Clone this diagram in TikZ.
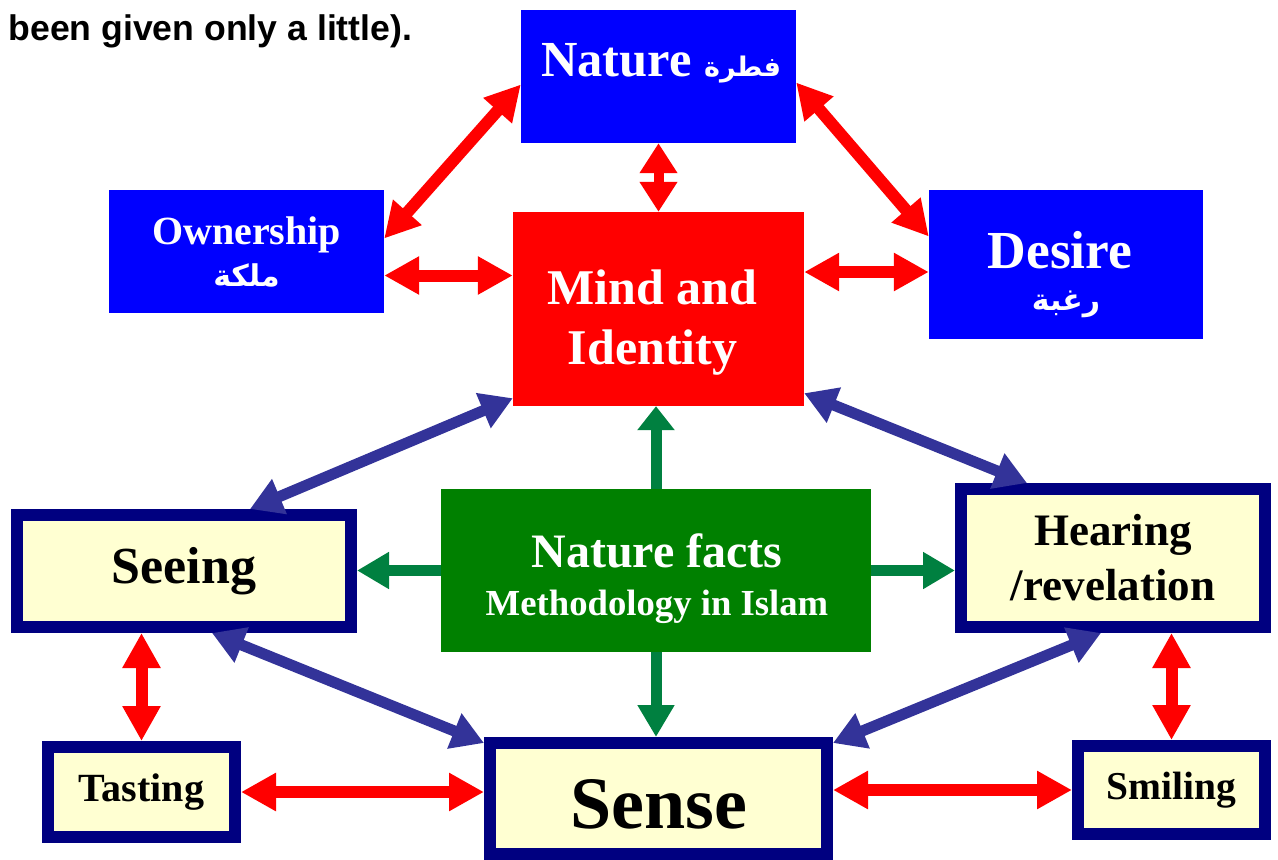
\documentclass[tikz,border=0pt]{standalone}
\usepackage{fontspec}
\setmainfont{Liberation Serif}
\newfontfamily\headfont{Liberation Sans}
\newfontfamily\arabicfont[Script=Arabic]{DejaVu Sans}
\TeXXeTstate=1
\usetikzlibrary{arrows.meta}
\definecolor{boxblue}{RGB}{0,0,255}
\definecolor{boxred}{RGB}{255,0,0}
\definecolor{boxgreen}{RGB}{0,128,0}
\definecolor{arrgreen}{RGB}{0,128,64}
\definecolor{arrblue}{RGB}{51,51,153}
\definecolor{navyline}{RGB}{0,0,128}
\definecolor{paleyellow}{RGB}{255,255,210}
\newcommand{\ar}[2][30]{{\arabicfont\bfseries\fontsize{#1}{#1}\selectfont\beginR #2\endR}}

\begin{document}
\begin{tikzpicture}[x=1pt,y=-1pt,
    box/.style={inner sep=0pt,align=center,text=white},
    sensebox/.style={draw=navyline,line width=12pt,fill=paleyellow,inner sep=0pt,align=center},
    redarr/.style={draw=boxred,line width=12pt,{Triangle[length=35pt,width=36pt]}-{Triangle[length=35pt,width=36pt]}},
    bluearr/.style={draw=arrblue,line width=11pt,{Triangle[length=32pt,width=36pt]}-{Triangle[length=32pt,width=36pt]}},
    greenarr/.style={draw=arrgreen,line width=11pt,-{Triangle[length=32pt,width=35pt]}}]

  \useasboundingbox (0,0) rectangle (1278,860);

  \node[anchor=base west,font=\headfont\bfseries\fontsize{35.6}{40}\selectfont] (title) at (5,40) {been given only a little).};

  % top boxes
  \node[box,fill=boxblue,minimum width=275pt,minimum height=133pt] (nature) at (658.5,76.5) {};
  \node[box,font=\bfseries\fontsize{50.5}{55}\selectfont] (naturetxt) at (661,63) {Nature \ar[27]{فطرة}};
  \node[box,fill=boxblue,minimum width=275pt,minimum height=123pt,font=\bfseries\fontsize{40}{44}\selectfont] (ownership) at (246.5,251.5) {Ownership\\[-2pt]\ar{ملكة}};
  \node[box,fill=boxblue,minimum width=274pt,minimum height=149pt] (desire) at (1066,264.5) {};
  \node[box,font=\bfseries\fontsize{53.5}{56}\selectfont] (desiretxt) at (1060,275) {Desire\\[-14pt]\hspace*{12pt}\ar{رغبة}};
  \node[box,fill=boxred,minimum width=291pt,minimum height=194pt] (mind) at (658.5,309) {};
  \node[box,font=\bfseries\fontsize{50}{60}\selectfont] (mindtxt) at (652.5,323) {Mind and\\Identity};

  % middle row
  \node[box,fill=boxgreen,minimum width=430pt,minimum height=163pt] (facts) at (656,570.5) {};
  \node[box,anchor=base,font=\bfseries\fontsize{48}{50}\selectfont] (factsa) at (657,567) {Nature facts};
  \node[box,anchor=base,font=\bfseries\fontsize{36.7}{40}\selectfont] (factsb) at (657,615) {Methodology in Islam};
  \node[sensebox,minimum width=334pt,minimum height=112pt,font=\bfseries\fontsize{52}{56}\selectfont] (seeing) at (184,571) {Seeing};
  \node[sensebox,minimum width=304pt,minimum height=138pt,font=\bfseries\fontsize{45}{55}\selectfont] (hearing) at (1113,558) {Hearing\\/revelation};

  % bottom row
  \node[sensebox,minimum width=187pt,minimum height=90pt,font=\bfseries\fontsize{40}{42}\selectfont] (tasting) at (141.5,792) {Tasting};
  \node[sensebox,minimum width=337pt,minimum height=111pt] (sense) at (658.5,798.5) {};
  \node[inner sep=0pt,font=\bfseries\fontsize{74}{80}\selectfont] (sensetxt) at (658.5,804) {Sense};
  \node[sensebox,minimum width=187pt,minimum height=88pt,font=\bfseries\fontsize{39.5}{42}\selectfont] (smiling) at (1171.5,790) {Smiling};

  % red links
  \draw[redarr] ([yshift=-8pt]nature.west) -- ([yshift=13pt]ownership.east);
  \draw[redarr] ([yshift=-6pt]nature.east) -- ([yshift=28pt]desire.west);
  \draw[redarr,line width=10pt,{Triangle[length=30pt,width=36pt]}-{Triangle[length=30pt,width=36pt]}] (nature.south) -- (mind.north);
  \draw[redarr] ([yshift=-24pt]ownership.east) -- ([yshift=-24pt]ownership.east -| mind.west);
  \draw[redarr] ([yshift=37pt]mind.east) -- ([yshift=37pt]mind.east -| desire.west);
  \draw[redarr] (tasting.north) -- (tasting.north |- seeing.south);
  \draw[redarr] (tasting.east) -- (tasting.east -| sense.west);
  \draw[redarr] (smiling.west) -- (smiling.west -| sense.east);
  \draw[redarr] (smiling.north) -- (smiling.north |- hearing.south);

  % blue links
  \draw[bluearr] ([yshift=8pt]mind.south west) -- ([xshift=66pt]seeing.north);
  \draw[bluearr] ([yshift=13pt]mind.south east) -- ([xshift=-86pt]hearing.north);
  \draw[bluearr] ([xshift=28pt]seeing.south) -- ([yshift=-6pt]sense.north west);
  \draw[bluearr] ([xshift=-12pt]hearing.south) -- ([yshift=-6pt]sense.north east);

  % green links
  \draw[greenarr,-{Triangle[length=24pt,width=36pt]}] (facts.north) -- (facts.north |- mind.south);
  \draw[greenarr] (facts.west) -- (facts.west -| seeing.east);
  \draw[greenarr] (facts.east) -- (facts.east -| hearing.west);
  \draw[greenarr] (facts.south) -- (facts.south |- sense.north);
\end{tikzpicture}
\end{document}
